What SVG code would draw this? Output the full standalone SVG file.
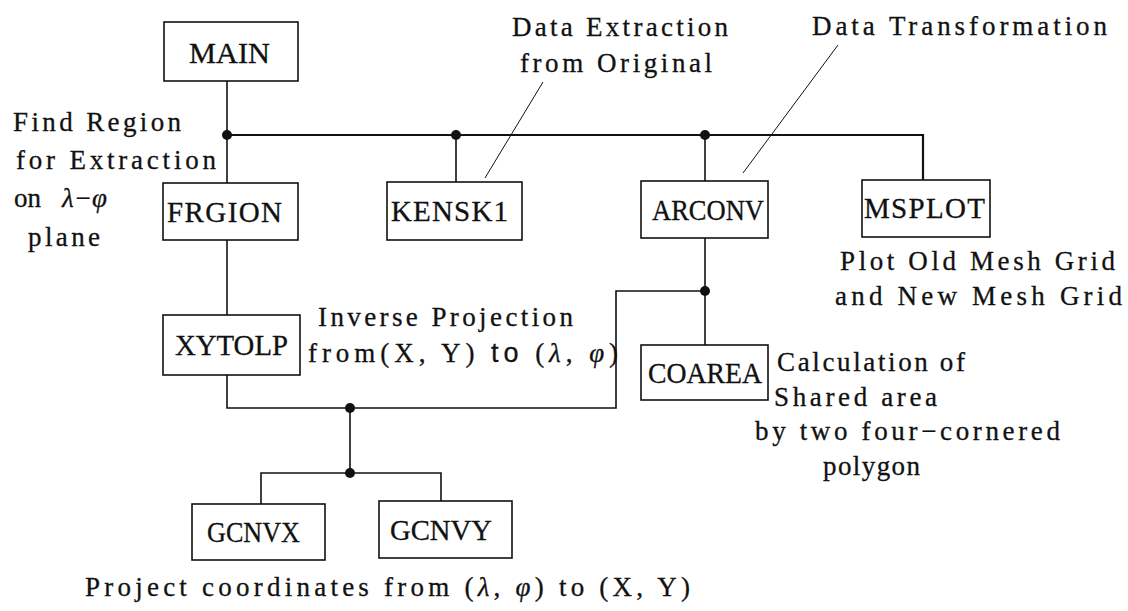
<svg xmlns="http://www.w3.org/2000/svg" width="1128" height="611" viewBox="0 0 1128 611">
  <style>
    .box { fill: #fff; stroke: #111; stroke-width: 1.6; }
    .lbl { font-family: "Liberation Serif", "DejaVu Serif", "Times New Roman", serif; font-size: 29px; fill: #111; stroke: #111; stroke-width: 0.3; }
    .note { font-family: "Liberation Serif", "DejaVu Serif", "Times New Roman", serif; font-size: 27px; fill: #111; stroke: #111; stroke-width: 0.3; }
    .gk { font-style: italic; }
    .sans { font-family: "Liberation Sans", "DejaVu Sans", sans-serif; }
    .wire { fill: none; stroke: #111; stroke-width: 1.6; }
    .bus { fill: none; stroke: #111; stroke-width: 2.2; }
    .lead { fill: none; stroke: #111; stroke-width: 1; }
    .dot { fill: #111; }
  </style>
  <rect width="1128" height="611" fill="#fff"/>

  <!-- connectors -->
  <g id="connectors">
    <path class="wire" d="M227,81 V183"/>
    <path class="bus" d="M227,135 H923 V180"/>
    <path class="wire" d="M456,135 V182"/>
    <path class="wire" d="M705,135 V181"/>
    <path class="wire" d="M705,238 V345"/>
    <path class="wire" d="M705,291 H616 V408 H227 V375"/>
    <path class="wire" d="M227,240 V315"/>
    <path class="wire" d="M350,408 V473"/>
    <path class="wire" d="M261,504 V473 H441 V501"/>
    <circle class="dot" cx="227" cy="135" r="5"/>
    <circle class="dot" cx="456" cy="135" r="5"/>
    <circle class="dot" cx="705" cy="135" r="5"/>
    <circle class="dot" cx="705" cy="291" r="5"/>
    <circle class="dot" cx="350" cy="408" r="5"/>
    <circle class="dot" cx="350" cy="473" r="5"/>
    <!-- annotation leaders -->
    <path class="lead" d="M543,82 L485,178"/>
    <path class="lead" d="M838,45 L743,173"/>
  </g>

  <!-- routine boxes -->
  <g id="MAIN">
    <rect class="box" x="164" y="22" width="134" height="59"/>
    <text class="lbl" x="189" y="63" textLength="81" lengthAdjust="spacingAndGlyphs">MAIN</text>
  </g>
  <g id="FRGION">
    <rect class="box" x="163" y="183" width="135" height="57"/>
    <text class="lbl" x="167" y="222" textLength="115" lengthAdjust="spacing">FRGION</text>
  </g>
  <g id="KENSK1">
    <rect class="box" x="387" y="182" width="135" height="58"/>
    <text class="lbl" x="391" y="221" textLength="117" lengthAdjust="spacing">KENSK1</text>
  </g>
  <g id="ARCONV">
    <rect class="box" x="641" y="181" width="127" height="57"/>
    <text class="lbl" x="652" y="220" textLength="112" lengthAdjust="spacingAndGlyphs">ARCONV</text>
  </g>
  <g id="MSPLOT">
    <rect class="box" x="862" y="180" width="128" height="57"/>
    <text class="lbl" x="864" y="218" textLength="121" lengthAdjust="spacing">MSPLOT</text>
  </g>
  <g id="XYTOLP">
    <rect class="box" x="163" y="315" width="137" height="60"/>
    <text class="lbl" x="175" y="355" textLength="113" lengthAdjust="spacingAndGlyphs">XYTOLP</text>
  </g>
  <g id="COAREA">
    <rect class="box" x="641" y="345" width="127" height="55"/>
    <text class="lbl" x="648" y="383" textLength="114" lengthAdjust="spacingAndGlyphs">COAREA</text>
  </g>
  <g id="GCNVX">
    <rect class="box" x="192" y="504" width="133" height="56"/>
    <text class="lbl" x="207" y="542" textLength="93" lengthAdjust="spacingAndGlyphs">GCNVX</text>
  </g>
  <g id="GCNVY">
    <rect class="box" x="379" y="501" width="133" height="57"/>
    <text class="lbl" x="390" y="540" textLength="102" lengthAdjust="spacingAndGlyphs">GCNVY</text>
  </g>

  <!-- descriptive notes -->
  <g id="notes">
    <text class="note" x="13" y="131" textLength="168" lengthAdjust="spacing">Find Region</text>
    <text class="note" x="16" y="169" textLength="200" lengthAdjust="spacing">for Extraction</text>
    <text class="note" x="14" y="207">on<tspan class="gk" x="62">λ−φ</tspan></text>
    <text class="note" x="28" y="246" textLength="72" lengthAdjust="spacing">plane</text>

    <text class="note" x="512" y="36" textLength="216" lengthAdjust="spacing">Data Extraction</text>
    <text class="note" x="520" y="72" textLength="192" lengthAdjust="spacing">from Original</text>
    <text class="note" x="812" y="35" textLength="295" lengthAdjust="spacing">Data Transformation</text>

    <text class="note" x="840" y="270" textLength="275" lengthAdjust="spacing">Plot Old Mesh Grid</text>
    <text class="note" x="835" y="305" textLength="287" lengthAdjust="spacing">and New Mesh Grid</text>

    <text class="note" x="318" y="326" textLength="255" lengthAdjust="spacing">Inverse Projection</text>
    <text class="note" x="308" y="362" textLength="310" lengthAdjust="spacing">from(X, Y)  <tspan class="sans">to</tspan> (<tspan class="gk">λ</tspan>, <tspan class="gk">φ</tspan>)</text>

    <text class="note" x="777" y="371" textLength="188" lengthAdjust="spacing">Calculation of</text>
    <text class="note" x="774" y="406" textLength="163" lengthAdjust="spacing">Shared area</text>
    <text class="note" x="755" y="440" textLength="305" lengthAdjust="spacing">by two four−cornered</text>
    <text class="note" x="823" y="475" textLength="97" lengthAdjust="spacing">polygon</text>

    <text class="note" x="85" y="596" textLength="605" lengthAdjust="spacing">Project coordinates from (<tspan class="gk">λ</tspan>, <tspan class="gk">φ</tspan>)  to (X, Y)</text>
  </g>
</svg>
